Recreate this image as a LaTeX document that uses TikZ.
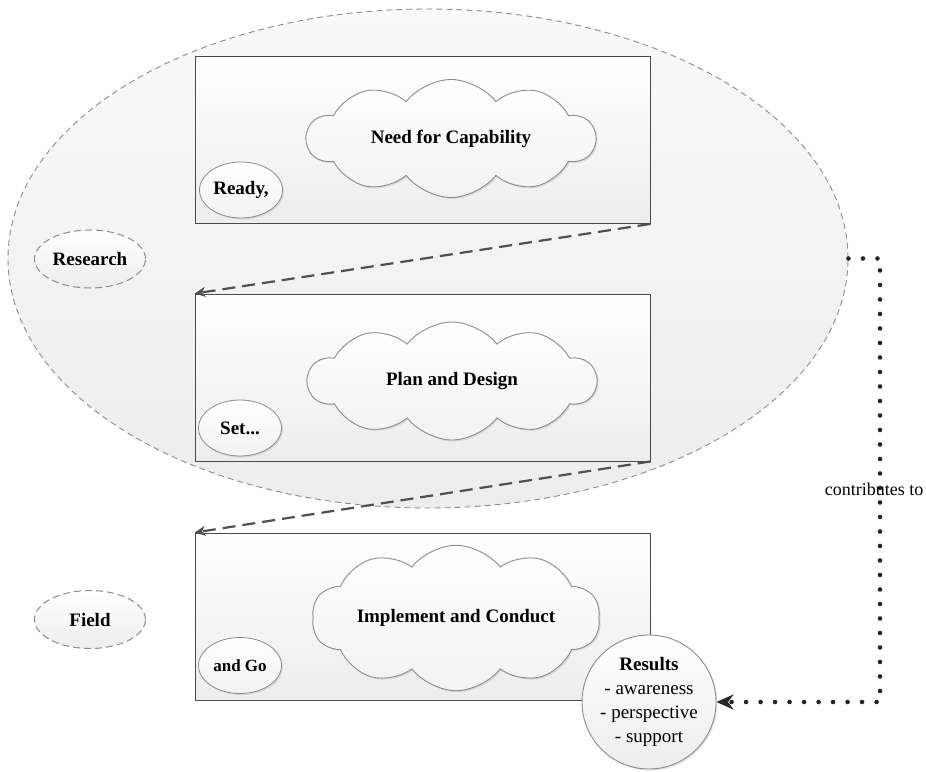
\documentclass[tikz,border=0pt]{standalone}
\usepackage{fontspec}
\setmainfont{Liberation Serif}
\usetikzlibrary{shapes.geometric,shapes.symbols,arrows.meta,shadows}
\definecolor{Frame}{HTML}{4A4A4A}
\definecolor{Rim}{HTML}{8C8C8C}
\definecolor{Haze}{HTML}{EDEDED}
\definecolor{Mist}{HTML}{F9F9F9}
\definecolor{Link}{HTML}{505050}

\begin{document}
\begin{tikzpicture}[x=1pt,y=-1pt]
      \tikzstyle{zonebox}=[ellipse, draw=Rim, line width=0.9pt, dash pattern=on 6pt off 4pt,
        top color=Mist, bottom color=Haze, minimum width=840pt, minimum height=499pt]
      \tikzstyle{phase}=[draw=Frame, line width=0.9pt, top color=white, bottom color=Haze,
        minimum width=455pt, minimum height=167pt, inner sep=0pt]
      \tikzstyle{idea}=[cloud, cloud puffs=10, cloud puff arc=105, aspect=2.6, draw=Rim,
        line width=0.9pt, top color=white, bottom color=Haze!70, inner sep=0pt,
        minimum width=288pt, minimum height=118pt,
        drop shadow={shadow xshift=1.5pt, shadow yshift=-1.5pt, opacity=0.2},
        font=\fontsize{19}{22}\selectfont\bfseries]
      \tikzstyle{cue}=[ellipse, draw=Rim, line width=0.8pt, top color=white, bottom color=Haze!70,
        minimum width=83pt, minimum height=56pt, inner sep=0pt,
        drop shadow={shadow xshift=1.5pt, shadow yshift=-1.5pt, opacity=0.2},
        font=\fontsize{19}{22}\selectfont\bfseries]
      \tikzstyle{area}=[ellipse, draw=Rim, line width=1pt, dash pattern=on 7pt off 4pt,
        top color=white, bottom color=Haze, minimum width=111pt, minimum height=58pt,
        inner sep=0pt, font=\fontsize{19}{22}\selectfont\bfseries]
      \tikzstyle{flow}=[-{Stealth[length=11pt,width=10pt]}, draw=Link, line width=2.2pt,
        dash pattern=on 13pt off 7pt]
      \tikzstyle{feed}=[-{Stealth[length=17pt,width=15pt]}, draw=black!85, line width=4.6pt,
        line cap=round, dash pattern=on 0pt off 14.5pt]
      \useasboundingbox (0,0) rectangle (926,771);

      \node[zonebox] (zone) at (428,258.5) {};
      \node[area] (research) at (90,259) {Research};
      \node[area] (field) at (90,619.5) {Field};

      \node[phase] (need) at (422.5,140) {};
      \node[phase] (plan) at (422.5,377.5) {};
      \node[phase] (impl) at (422.5,616.5) {};

      \node[idea] (needc) at (451,138.5) {Need for Capability};
      \node[idea] (planc) at (452,381) {Plan and Design};
      \node[idea] (implc) at (456,618) {Implement and Conduct};

      \node[cue] (ready) at (241,190) {Ready,};
      \node[cue] (set) at (240,428) {Set...};
      \node[cue, font=\fontsize{17}{20}\selectfont\bfseries] (go) at (240,665.5) {and Go};

      \draw[flow] (need.south east) -- (plan.north west);
      \draw[flow] (plan.south east) -- (impl.north west);

      \node[circle, draw=Rim, line width=0.9pt, top color=white, bottom color=Haze,
        minimum size=134pt, inner sep=0pt, align=center,
        drop shadow={shadow xshift=1.5pt, shadow yshift=-1.5pt, opacity=0.2},
        font=\fontsize{19}{24}\selectfont] (res) at (649,702)
        {\textbf{Results}\\- awareness\\- perspective\\- support};

      \coordinate (bend) at (880,258.5);
      \draw[feed] (zone.east) -- (bend) |- (res.east);
      \node[font=\fontsize{18}{21}\selectfont] (contrib) at (874,489) {contributes to};
    \end{tikzpicture}
\end{document}
